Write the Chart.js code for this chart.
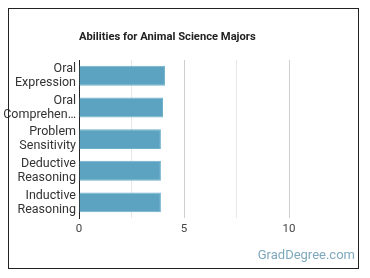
<!DOCTYPE html>
<html>
<head>
<meta charset="utf-8">
<script src="https://cdn.jsdelivr.net/npm/chart.js@4/dist/chart.umd.min.js"></script>
<style>
  html, body { margin: 0; padding: 0; background: #fff; }
  #abilitiesChart { position: absolute; left: 0; top: 0; }
  #box { position: absolute; left: 8px; top: 8px; width: 349px; height: 259px; border: 1px solid #222; pointer-events: none; }
  #brand { position: absolute; right: 3px; bottom: 6px; font: 13px Roboto, sans-serif; color: #7ea8bd; }
</style>
</head>
<body>
<canvas id="abilitiesChart" width="370" height="278"></canvas>
<div id="box">
  <div id="brand">GradDegree.com</div>
</div>
<script>
const chartTitle = 'Abilities for Animal Science Majors';
const abilityLabels = [
    ['Oral', 'Expression'],
    ['Oral', 'Comprehen\u2026'],
    ['Problem', 'Sensitivity'],
    ['Deductive', 'Reasoning'],
    ['Inductive', 'Reasoning']
];
const abilityScores = [4.1, 4.0, 3.9, 3.9, 3.9];
const axisMax = 12.5;
const axisStep = 2.5;

// title sits flush with the plot's left edge, not centered
const leftTitle = {
    id: 'leftTitle',
    afterDraw(chart) {
        const ctx = chart.ctx;
        ctx.save();
        ctx.font = 'bold 11.2px Roboto, sans-serif';
        ctx.fillStyle = '#222';
        ctx.textBaseline = 'middle';
        ctx.fillText(chartTitle, chart.chartArea.left, 37);
        ctx.restore();
    }
};

try {
    const canvas = document.getElementById('abilitiesChart');
    window.abilitiesChart = new Chart(canvas, {
        type: 'bar',
        data: {
            labels: abilityLabels,
            datasets: [{
                data: abilityScores,
                backgroundColor: '#5ba3c1',
                borderColor: '#6fb0cb',
                borderWidth: 1,
                categoryPercentage: 1,
                barPercentage: 0.63
            }]
        },
        options: {
            indexAxis: 'y',
            responsive: false,
            animation: false,
            layout: { padding: { top: 60, right: 28.5, bottom: 38, left: 0 } },
            plugins: { legend: { display: false }, title: { display: false }, tooltip: { enabled: false } },
            scales: {
                x: {
                    min: 0, max: axisMax,
                    border: { display: false },
                    grid: {
                        drawTicks: false,
                        color: c => c.tick.value >= axisMax ? 'rgba(0,0,0,0)' : (c.tick.value % 5 === 0 ? '#cfcfcf' : '#e8e8e8')
                    },
                    ticks: {
                        stepSize: axisStep,
                        padding: 4,
                        autoSkip: false,
                        maxRotation: 0,
                        color: '#444',
                        font: { family: 'Roboto', size: 11.5 },
                        callback: v => (v % 5 === 0 && v < axisMax) ? String(v) : ''
                    }
                },
                y: {
                    afterFit: s => { s.width = 79; },
                    border: { display: true, color: '#222', width: 1 },
                    grid: { display: false, drawTicks: false },
                    ticks: { padding: 3, autoSkip: false, color: '#333', font: { family: 'Roboto', size: 12.5, lineHeight: 1.12 } }
                }
            }
        },
        plugins: [leftTitle]
    });
} catch(e) { console.error("Chart Error:", e); }
</script>
</body>
</html>
